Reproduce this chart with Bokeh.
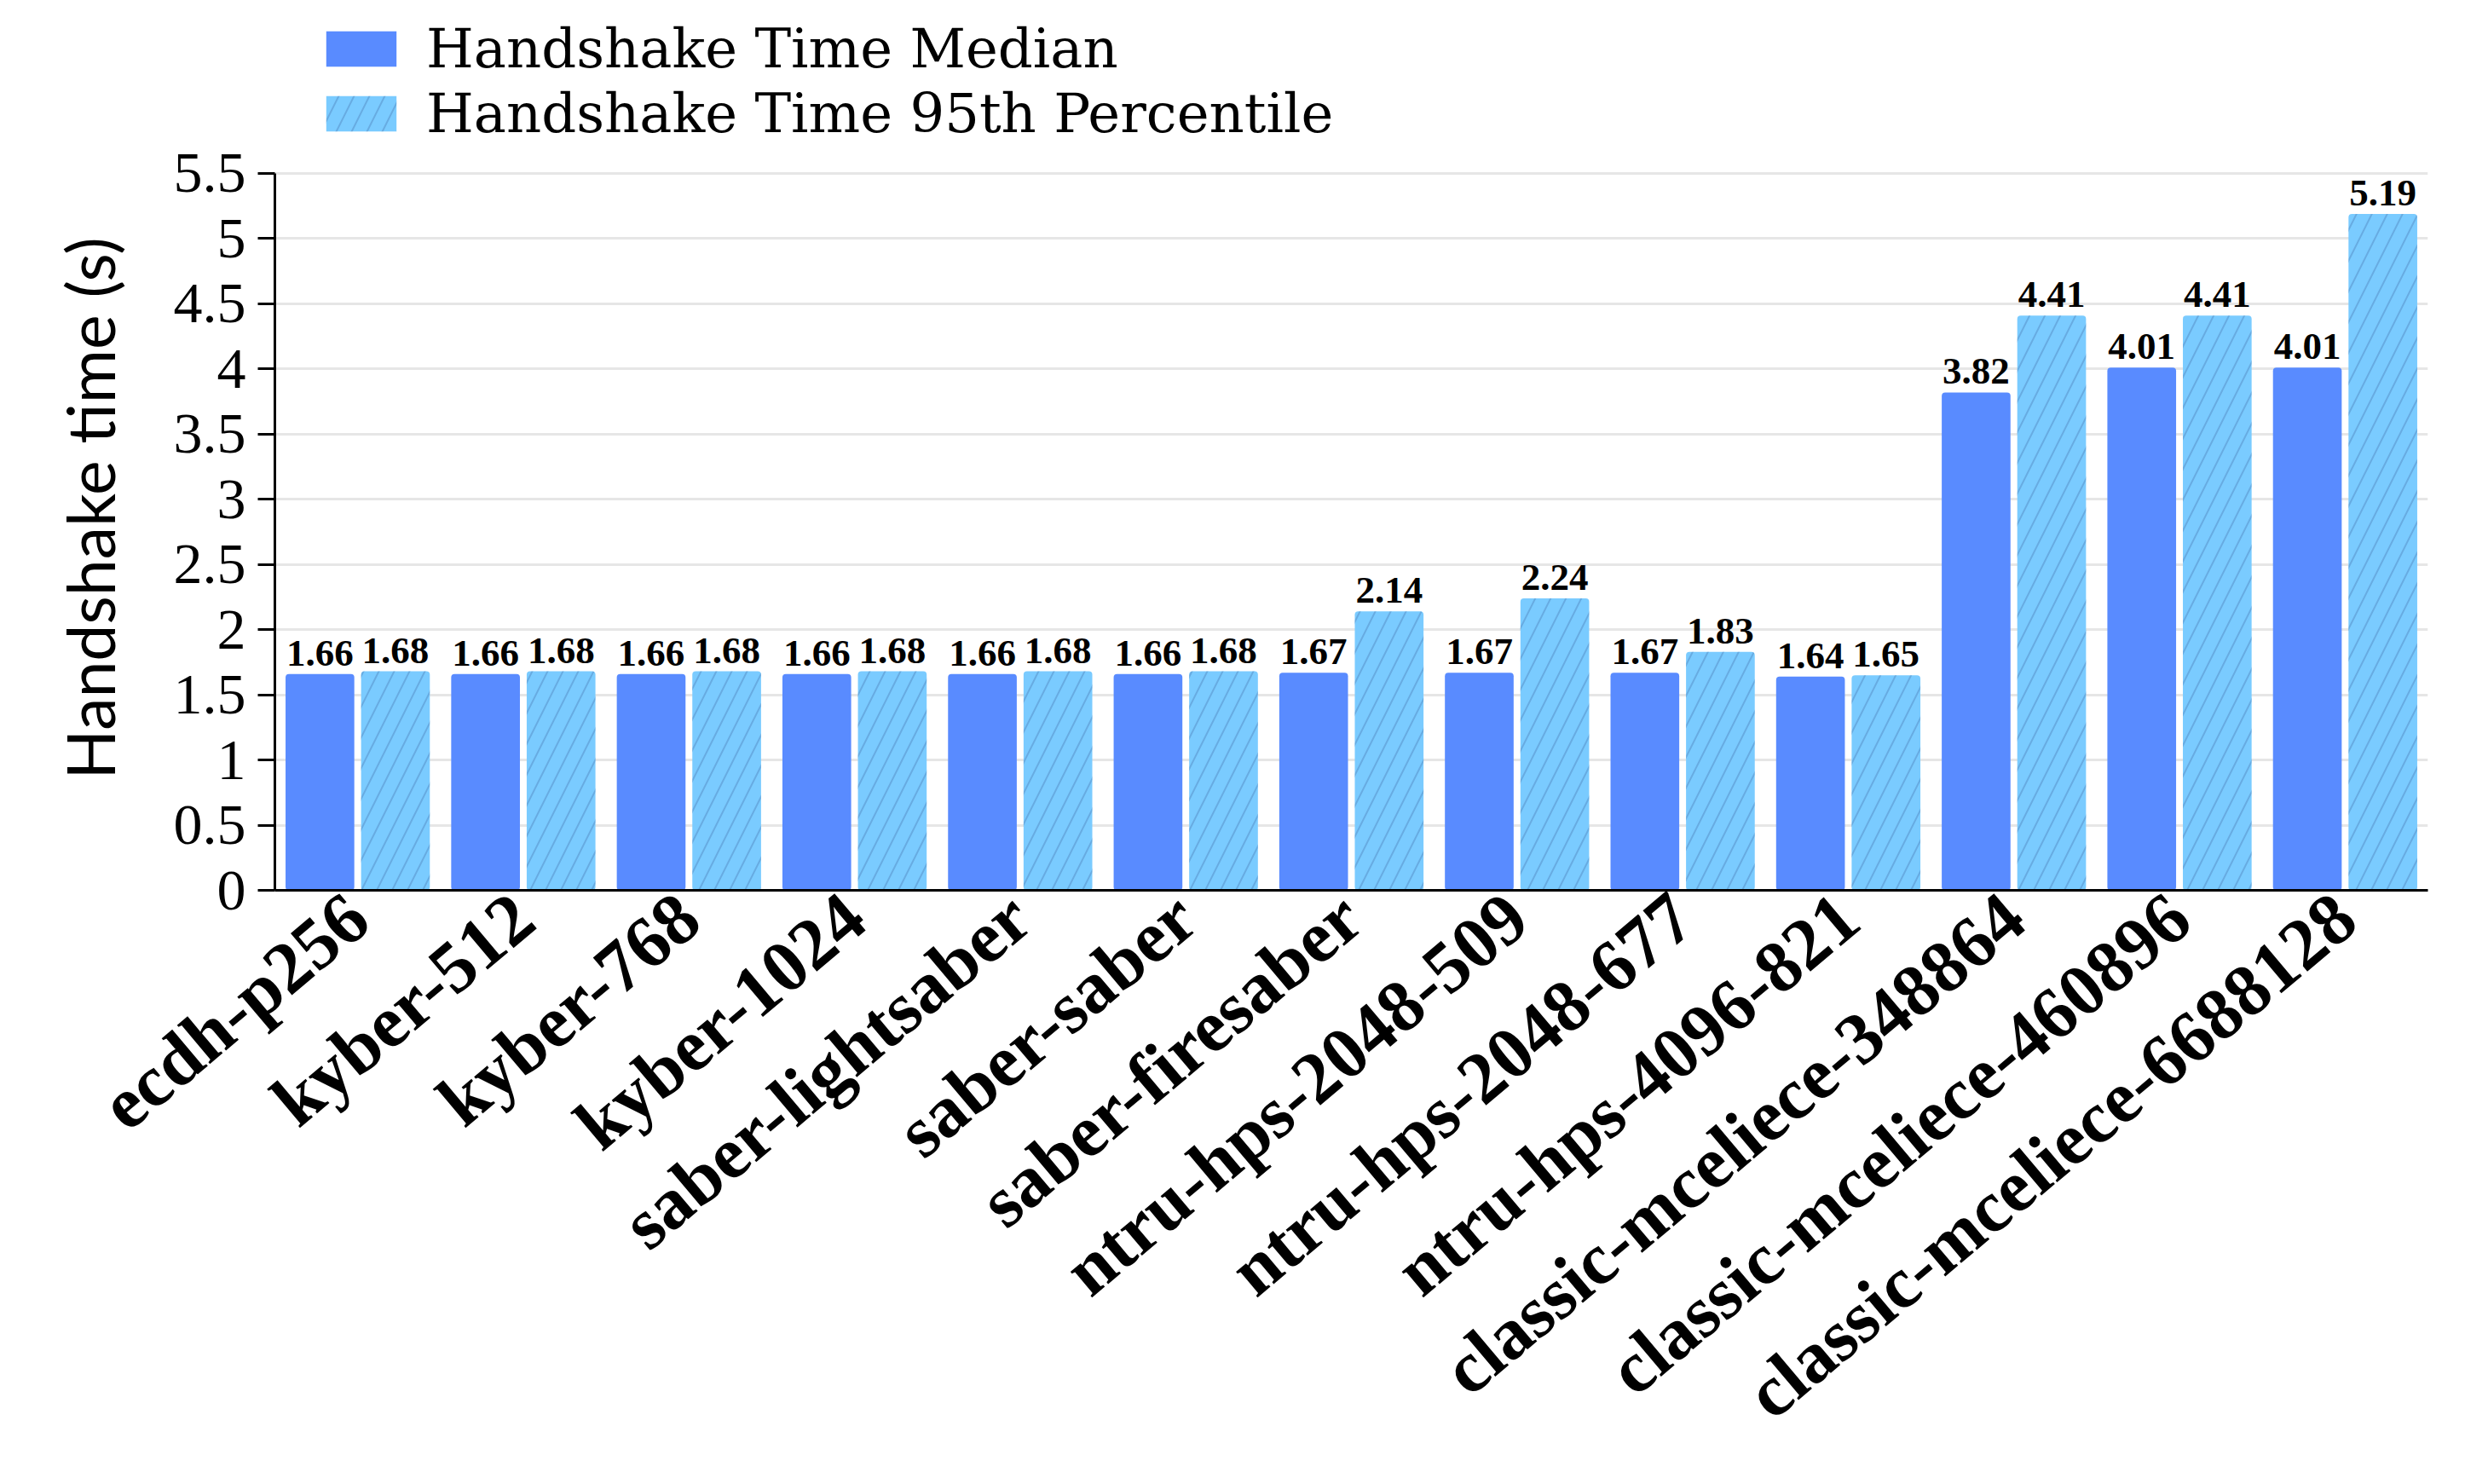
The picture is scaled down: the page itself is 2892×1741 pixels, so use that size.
from bokeh.plotting import figure
from bokeh.models import (ColumnDataSource, FactorRange, Range1d, FixedTicker,
                          Legend, LegendItem, Title)
from bokeh.transform import dodge
from bokeh.core.properties import value
from bokeh.embed import file_html
from bokeh.resources import INLINE

# ---------------- data ----------------
categories = ["ecdh-p256", "kyber-512", "kyber-768", "kyber-1024",
              "saber-lightsaber", "saber-saber", "saber-firesaber",
              "ntru-hps-2048-509", "ntru-hps-2048-677", "ntru-hps-4096-821",
              "classic-mceliece-348864", "classic-mceliece-460896",
              "classic-mceliece-6688128"]
median_s = [1.66, 1.66, 1.66, 1.66, 1.66, 1.66, 1.67, 1.67, 1.67, 1.64,
            3.82, 4.01, 4.01]
p95_s = [1.68, 1.68, 1.68, 1.68, 1.68, 1.68, 2.14, 2.24, 1.83, 1.65,
         4.41, 4.41, 5.19]
y_ticks = [0, 0.5, 1, 1.5, 2, 2.5, 3, 3.5, 4, 4.5, 5, 5.5]
y_tick_labels = ["0", "0.5", "1", "1.5", "2", "2.5", "3", "3.5", "4", "4.5",
                 "5", "5.5"]
series_names = ["Handshake Time Median", "Handshake Time 95th Percentile"]
y_title = "Handshake time (s)"

src = ColumnDataSource(dict(
    cat=categories,
    med=median_s,
    p95=p95_s,
    med_lbl=[f"{v:.2f}" for v in median_s],
    p95_lbl=[f"{v:.2f}" for v in p95_s],
))

MED_COLOR = "#598BFF"
P95_COLOR = "#7ACBFF"
HATCH_COLOR = "#4F86BF"
SERIF = "Liberation Serif"
LEGEND_FONT = "DejaVu Serif"

# frame spans from the page top (room for the legend) down to the x axis;
# the y axis itself is bounded to 0..5.5
Y_AXIS_MAX = 5.5
Y_VIEW_MAX = 6.8275

p = figure(x_range=FactorRange(*categories, range_padding=0),
           y_range=Range1d(0, Y_VIEW_MAX),
           width=2870, height=1725,
           min_border_left=322, min_border_right=22,
           min_border_top=0, min_border_bottom=681,
           output_backend="svg", toolbar_location=None,
           background_fill_color="white", border_fill_color="white")
p.outline_line_color = None

r_med = p.vbar(x=dodge("cat", -0.228, range=p.x_range), top="med", width=0.415,
               bottom=0, source=src, fill_color=MED_COLOR, line_color=None,
               border_radius=4)
r_p95 = p.vbar(x=dodge("cat", 0.228, range=p.x_range), top="p95", width=0.415,
               bottom=0, source=src, fill_color=P95_COLOR, line_color=None,
               hatch_pattern="/", hatch_color=HATCH_COLOR, hatch_alpha=0.45,
               hatch_weight=2, hatch_scale=36, border_radius=4)

for off, col, ycol in ((-0.228, "med_lbl", "med"), (0.228, "p95_lbl", "p95")):
    p.text(x=dodge("cat", off, range=p.x_range), y=ycol, text=col, source=src,
           text_align="center", text_baseline="bottom", y_offset=-10,
           text_font=value(SERIF), text_font_style="bold",
           text_font_size="45px", text_color="black")

# y axis
yax = p.yaxis[0]
yax.bounds = (0, Y_AXIS_MAX)
yax.ticker = FixedTicker(ticks=y_ticks)
yax.major_label_overrides = {t: l for t, l in zip(y_ticks, y_tick_labels)}
yax.major_label_text_font = SERIF
yax.major_label_text_font_size = "68px"
yax.major_label_text_color = "black"
yax.major_label_standoff = 14
yax.major_tick_out = 20
yax.major_tick_in = 0
yax.major_tick_line_width = 3
yax.major_tick_line_color = "black"
yax.minor_tick_line_color = None
yax.axis_line_width = 3
yax.axis_line_color = "black"

# y-axis title, placed as a side title so it can sit lower than frame centre
ytitle = Title(text=y_title, align="left", offset=130, standoff=100,
               text_font="Lato", text_font_style="normal",
               text_font_size="77px", text_color="black")
p.add_layout(ytitle, "left")

# x axis
xax = p.xaxis[0]
xax.major_label_orientation = 0.70
xax.major_label_text_font = SERIF
xax.major_label_text_font_style = "bold"
xax.major_label_text_font_size = "86px"
xax.major_label_text_color = "black"
xax.major_label_standoff = 14
xax.major_tick_line_color = None
xax.minor_tick_line_color = None
xax.axis_line_width = 3
xax.axis_line_color = "black"

p.xgrid.grid_line_color = None
p.ygrid.ticker = FixedTicker(ticks=y_ticks)
p.ygrid.grid_line_color = "#e6e6e6"
p.ygrid.grid_line_width = 3

# legend: one entry per Legend so each row can be placed on its own
common = dict(orientation="vertical", glyph_width=103, glyph_height=52,
              label_standoff=25, label_text_font=LEGEND_FONT,
              label_text_font_size="64px", label_text_color="black",
              padding=0, margin=0, border_line_color=None,
              background_fill_alpha=0, spacing=0)
leg1 = Legend(items=[LegendItem(label=series_names[0], renderers=[r_med])],
              location=(50, 950), **common)
leg2 = Legend(items=[LegendItem(label=series_names[1], renderers=[r_p95])],
              location=(50, 874), **common)
p.add_layout(leg1, "center")
p.add_layout(leg2, "center")

open("out.html", "w").write(file_html(p, INLINE))
